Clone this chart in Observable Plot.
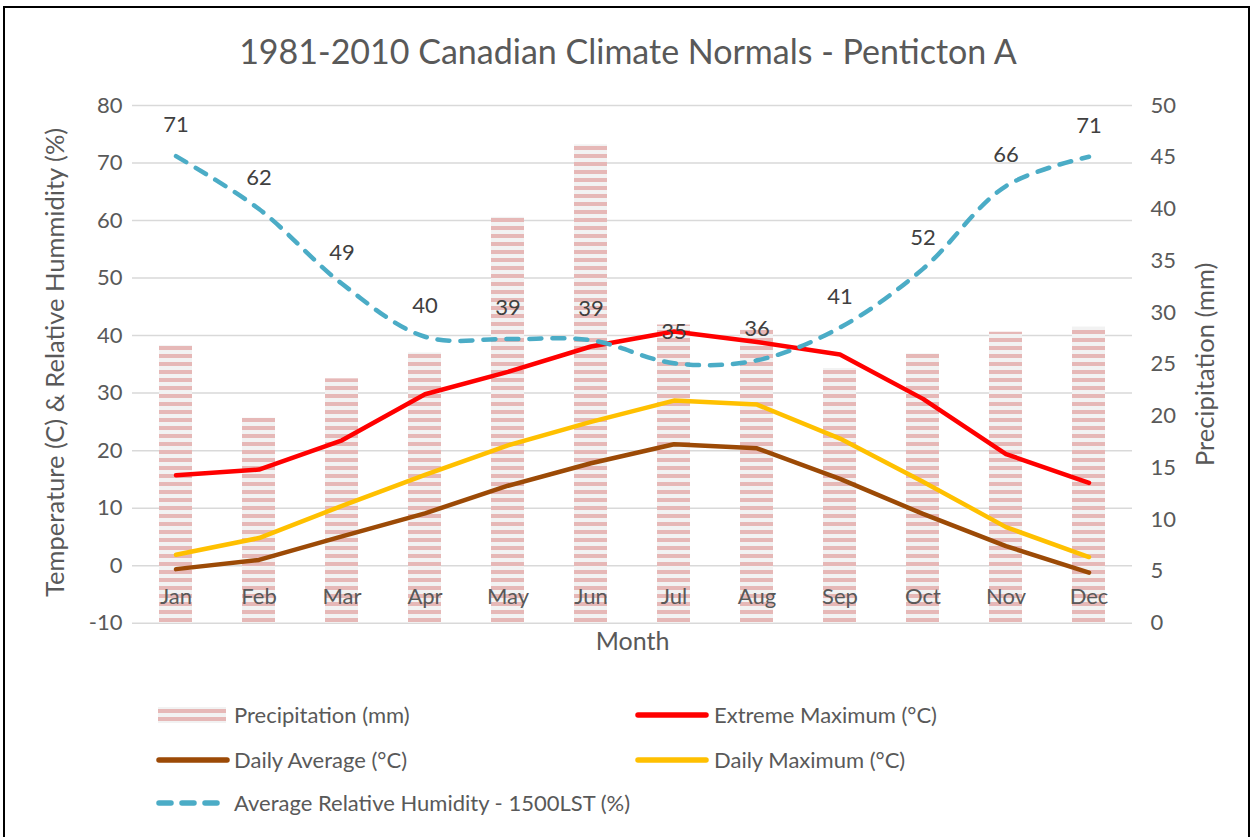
<!DOCTYPE html>
<html>
<head>
<meta charset="utf-8">
<script src="https://cdn.jsdelivr.net/npm/d3@7"></script>
<script src="https://cdn.jsdelivr.net/npm/@observablehq/plot@0.6"></script>
<style>
  html, body { margin: 0; padding: 0; background: #fff; }
  body { width: 1252px; height: 837px; overflow: hidden; position: relative; font-family: Lato, "Open Sans", sans-serif; color: #595959; }
  #frame { position: absolute; left: 3px; top: 6px; width: 1247px; height: 860px; border: 2px solid #000; box-sizing: border-box; }
  #title { position: absolute; left: 0; top: 30px; width: 1256px; text-align: center; font-size: 34px; line-height: 42px; color: #595959; }
  #chart { position: absolute; left: 0; top: 80px; }
  .sw { position: absolute; }
  .lt { position: absolute; font-size: 22px; line-height: 28px; color: #595959; white-space: nowrap; }
</style>
</head>
<body>
<div id="frame"></div>
<div id="title">1981-2010 Canadian Climate Normals - Penticton A</div>
<div id="chart"></div>
<div id="legend"></div>
<script>
const months = ["Jan","Feb","Mar","Apr","May","Jun","Jul","Aug","Sep","Oct","Nov","Dec"];
const precipitation = [26.8, 19.8, 23.6, 26.1, 39.2, 46.2, 28.8, 28.3, 24.6, 26.0, 28.1, 28.6];
const extremeMax = [15.7, 16.7, 21.8, 29.8, 33.7, 38.1, 40.7, 38.9, 36.7, 29.0, 19.4, 14.4];
const dailyMax = [1.9, 4.8, 10.4, 15.8, 20.9, 25.0, 28.7, 28.0, 22.1, 14.6, 6.7, 1.5];
const dailyAvg = [-0.6, 1.0, 5.1, 9.1, 13.9, 17.8, 21.1, 20.4, 15.1, 9.0, 3.4, -1.2];
const humidity = [71.2, 62.0, 49.0, 39.8, 39.4, 39.2, 35.2, 35.7, 41.4, 51.6, 66.0, 71.1];
const humidityLabels = [71, 62, 49, 40, 39, 39, 35, 36, 41, 52, 66, 71];
const leftTicks = [-10, 0, 10, 20, 30, 40, 50, 60, 70, 80];
const rightTicks = [0, 5, 10, 15, 20, 25, 30, 35, 40, 45, 50];

const leftDomain = [-10, 80];
const rightDomain = [0, 50];
const toLeft = p => leftDomain[0] + (p - rightDomain[0]) * (leftDomain[1] - leftDomain[0]) / (rightDomain[1] - rightDomain[0]);
const toRight = v => rightDomain[0] + (v - leftDomain[0]) * (rightDomain[1] - rightDomain[0]) / (leftDomain[1] - leftDomain[0]);

const rows = months.map((m, i) => ({
  month: m,
  precip: toLeft(precipitation[i]),
  base: toLeft(0),
  ext: extremeMax[i],
  dmax: dailyMax[i],
  davg: dailyAvg[i],
  hum: humidity[i],
  humLabel: humidityLabels[i]
}));

const colors = { precipA: "#e6b8b7", precipB: "#f2f2f2", ext: "#ff0000", dmax: "#ffc000", davg: "#9c4a06", hum: "#4bacc6" };
const font = "Lato, 'Open Sans', sans-serif";

const chart = Plot.plot({
  width: 1252,
  height: 600,
  marginTop: 25,
  marginBottom: 57.3,
  marginLeft: 132,
  marginRight: 120,
  style: { fontFamily: font, fontSize: "22px", color: "#595959", background: "transparent", overflow: "visible" },
  x: { type: "band", domain: months, padding: 0, axis: null },
  y: { domain: leftDomain, axis: null },
  marks: [
    Plot.gridY(leftTicks, { stroke: "#d9d9d9", strokeOpacity: 1, strokeWidth: 1.5 }),
    Plot.barY(rows, { x: "month", y1: "base", y2: "precip", fill: "url(#stripes)", insetLeft: 25, insetRight: 25 }),
    Plot.axisY(leftTicks, { anchor: "left", tickSize: 0, tickPadding: 10, fontSize: 22, fill: "#595959", label: null, tickFormat: d => String(d) }),
    Plot.axisY(rightTicks.map(toLeft), { anchor: "right", tickSize: 0, tickPadding: 18, fontSize: 22, fill: "#595959", label: null, tickFormat: v => String(Math.round(toRight(v))) }),
    Plot.axisX({ anchor: "bottom", tickSize: 0, tickPadding: 0, dy: -35, fontSize: 22, fill: "#595959", label: null }),
    Plot.text(["Temperature (C) & Relative Hummidity (%)"], { text: d => d, frameAnchor: "left", textAnchor: "middle", dx: -77, dy: -2, rotate: -90, fontSize: 25.5, fill: "#595959" }),
    Plot.text(["Precipitation (mm)"], { text: d => d, frameAnchor: "right", textAnchor: "middle", dx: 73, rotate: -90, fontSize: 25.5, fill: "#595959" }),
    Plot.text(["Month"], { text: d => d, frameAnchor: "bottom", dy: 27, fontSize: 25, fill: "#595959" }),
    Plot.line(rows, { x: "month", y: "davg", stroke: colors.davg, strokeWidth: 4.5, strokeLinecap: "round", strokeLinejoin: "round" }),
    Plot.line(rows, { x: "month", y: "dmax", stroke: colors.dmax, strokeWidth: 4.5, strokeLinecap: "round", strokeLinejoin: "round" }),
    Plot.line(rows, { x: "month", y: "ext", stroke: colors.ext, strokeWidth: 4.5, strokeLinecap: "round", strokeLinejoin: "round" }),
    Plot.line(rows, { x: "month", y: "hum", stroke: colors.hum, strokeWidth: 4.5, strokeLinecap: "round", strokeDasharray: "12,11", curve: "catmull-rom" }),
    Plot.text(rows, { x: "month", y: "hum", text: "humLabel", dy: -31, fontSize: 22, fill: "#404040" })
  ]
});

// stripe pattern for precipitation bars
const ns = "http://www.w3.org/2000/svg";
function addStripes(svg, id) {
  const defs = document.createElementNS(ns, "defs");
  const pat = document.createElementNS(ns, "pattern");
  pat.setAttribute("id", id);
  pat.setAttribute("patternUnits", "userSpaceOnUse");
  pat.setAttribute("width", "8");
  pat.setAttribute("height", "8");
  const r1 = document.createElementNS(ns, "rect");
  r1.setAttribute("width", "8"); r1.setAttribute("height", "8"); r1.setAttribute("fill", colors.precipB);
  const r2 = document.createElementNS(ns, "rect");
  r2.setAttribute("y", "2"); r2.setAttribute("width", "8"); r2.setAttribute("height", "4"); r2.setAttribute("fill", colors.precipA);
  pat.appendChild(r1); pat.appendChild(r2);
  defs.appendChild(pat);
  svg.insertBefore(defs, svg.firstChild);
}
addStripes(chart, "stripes");
document.getElementById("chart").appendChild(chart);

// legend
const legendItems = [
  { label: "Precipitation (mm)", type: "bar", x: 158, tx: 234, y: 715 },
  { label: "Extreme Maximum (°C)", type: "line", color: colors.ext, x: 634, tx: 714, y: 715 },
  { label: "Daily Average (°C)", type: "line", color: colors.davg, x: 155, tx: 234, y: 760 },
  { label: "Daily Maximum (°C)", type: "line", color: colors.dmax, x: 634, tx: 714, y: 760 },
  { label: "Average Relative Humidity - 1500LST (%)", type: "dash", color: colors.hum, x: 155, tx: 234, y: 803 }
];
const legend = document.getElementById("legend");
legendItems.forEach(it => {
  const sw = document.createElement("div");
  sw.className = "sw";
  sw.style.left = it.x + "px";
  sw.style.top = (it.y - 8) + "px";
  if (it.type === "bar") {
    sw.innerHTML = `<svg width="68" height="16" style="display:block"><defs><pattern id="lstripes" patternUnits="userSpaceOnUse" width="8" height="8"><rect width="8" height="8" fill="${colors.precipB}"/><rect y="2" width="8" height="4" fill="${colors.precipA}"/></pattern></defs><rect x="0" y="0" width="68" height="16" fill="url(#lstripes)"/></svg>`;
  } else if (it.type === "line") {
    sw.innerHTML = `<svg width="76" height="16" style="display:block"><line x1="4" x2="72" y1="8" y2="8" stroke="${it.color}" stroke-width="5.5" stroke-linecap="round"/></svg>`;
  } else {
    sw.innerHTML = `<svg width="70" height="16" style="display:block"><line x1="4" x2="66" y1="8" y2="8" stroke="${it.color}" stroke-width="5.5" stroke-linecap="round" stroke-dasharray="12,11"/></svg>`;
  }
  legend.appendChild(sw);
  const t = document.createElement("div");
  t.className = "lt";
  t.style.left = it.tx + "px";
  t.style.top = (it.y - 14) + "px";
  t.textContent = it.label;
  legend.appendChild(t);
});
</script>
</body>
</html>
